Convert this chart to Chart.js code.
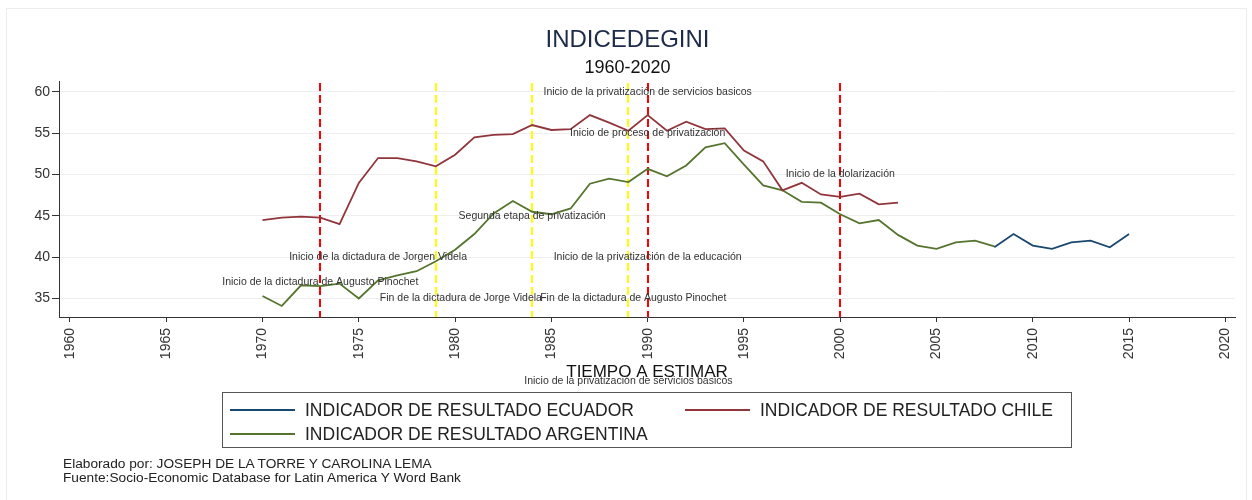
<!DOCTYPE html>
<html>
<head>
<meta charset="utf-8">
<script src="https://cdn.jsdelivr.net/npm/chart.js@4.4.1/dist/chart.umd.min.js"></script>
<style>
  html, body { margin: 0; padding: 0; background: #fff; }
  #wrap { position: relative; width: 1252px; height: 500px; overflow: hidden; font-family: "Liberation Sans", Arial, sans-serif; }
  #frame { position: absolute; left: 6px; top: 8px; width: 1241px; height: 520px; border: 1px solid #ececec; box-sizing: border-box; }
  #giniChart { position: absolute; left: 0; top: 0; }
  #legend { position: absolute; left: 222px; top: 392px; width: 850px; height: 56px; border: 1px solid #555; box-sizing: border-box; }
  .item { position: absolute; height: 22px; line-height: 22px; display: flex; align-items: center; white-space: nowrap; font-size: 17.5px; color: #222; }
  .col0 { left: 7px; }
  .col1 { left: 462px; }
  .row0 { top: 6px; }
  .row1 { top: 30px; }
  .swatch { width: 65px; height: 0; border-top: 2px solid; margin-right: 10px; }
  #footer { position: absolute; left: 63px; top: 457px; font-size: 13.7px; line-height: 14px; color: #222; }
</style>
</head>
<body>
<div id="wrap">
  <div id="frame"></div>
  <canvas id="giniChart" width="1252" height="500"></canvas>
  <div id="legend"></div>
  <div id="footer">
    Elaborado por: JOSEPH DE LA TORRE Y CAROLINA LEMA<br>
    Fuente:Socio-Economic Database for Latin America Y Word Bank
  </div>
</div>
<script>
// años 1970-2015
const years = [1970, 1971, 1972, 1973, 1974, 1975, 1976, 1977, 1978, 1979,
  1980, 1981, 1982, 1983, 1984, 1985, 1986, 1987, 1988, 1989,
  1990, 1991, 1992, 1993, 1994, 1995, 1996, 1997, 1998, 1999,
  2000, 2001, 2002, 2003, 2004, 2005, 2006, 2007, 2008, 2009,
  2010, 2011, 2012, 2013, 2014, 2015];

const ecuador = [null, null, null, null, null, null, null, null, null, null,
  null, null, null, null, null, null, null, null, null, null,
  null, null, null, null, null, null, null, null, null, null,
  null, null, null, null, null, null, null, null, 41.2, 42.8,
  41.4, 41.0, 41.8, 42.0, 41.2, 42.8];

const chile = [44.5, 44.8, 44.9, 44.8, 44.0, 49.0, 52.0, 52.0, 51.6, 51.0,
  52.4, 54.5, 54.8, 54.9, 56.0, 55.4, 55.5, 57.2, 56.3, 55.3,
  57.2, 55.3, 56.4, 55.5, 55.6, 52.9, 51.6, 48.1, 49.0, 47.6,
  47.3, 47.7, 46.4, 46.6, null, null, null, null, null, null,
  null, null, null, null, null, null];

const argentina = [35.3, 34.1, 36.6, 36.5, 36.8, 35.0, 37.2, 37.8, 38.3, 39.5,
  40.9, 42.8, 45.3, 46.8, 45.5, 45.2, 45.9, 48.9, 49.5, 49.1,
  50.7, 49.8, 51.1, 53.3, 53.8, 51.2, 48.7, 48.1, 46.7, 46.6,
  45.2, 44.1, 44.5, 42.7, 41.4, 41.0, 41.8, 42.0, 41.3, null,
  null, null, null, null, null, null];

const xTicks = [1960, 1965, 1970, 1975, 1980, 1985, 1990, 1995, 2000, 2005, 2010, 2015, 2020];
const yTicks = [35, 40, 45, 50, 55, 60];

// lineas verticales de eventos
const eventYears = [1973, 1979, 1984, 1989, 1990, 2000];
const eventColors = ["#ff0000", "#ffff00", "#ffff00", "#ffff00", "#ff0000", "#ff0000"];

// textos de eventos
const noteTexts = [
  "Inicio de la privatización de servicios basicos",
  "Inicio de proceso de privatización",
  "Inicio de la dolarización",
  "Segunda etapa de privatización",
  "Inicio de la dictadura de Jorgen Videla",
  "Inicio de la privatización de la educación",
  "Inicio de la dictadura de Augusto Pinochet",
  "Fin de la dictadura de Jorge Videla",
  "Fin de la dictadura de Augusto Pinochet",
  "Inicio de la privatización de servicios basicos",
];
const noteYears = [1990, 1990, 2000, 1984, 1976, 1990, 1973, 1980.3, 1989.25, 1989];
const noteValues = [60, 55, 50, 45, 40, 40, 37, 35, 35, 25];

function toPoints(values) {
  return years.map((yr, i) => ({ x: yr, y: values[i] })).filter(p => p.y !== null);
}

const eventLines = {
  id: "eventLines",
  beforeDatasetsDraw(chart) {
    const { ctx, chartArea, scales } = chart;
    ctx.save();
    ctx.lineWidth = 2;
    ctx.setLineDash([8, 4]);
    eventYears.forEach((yr, i) => {
      const x = Math.round(scales.x.getPixelForValue(yr));
      ctx.strokeStyle = eventColors[i];
      ctx.beginPath();
      ctx.moveTo(x, chartArea.top + 2);
      ctx.lineTo(x, chartArea.bottom);
      ctx.stroke();
    });
    ctx.restore();
  },
};

const notes = {
  id: "notes",
  afterDatasetsDraw(chart) {
    const { ctx, scales } = chart;
    ctx.save();
    ctx.font = "10.5px 'Liberation Sans', Arial, sans-serif";
    ctx.fillStyle = "#333";
    ctx.textAlign = "center";
    ctx.textBaseline = "middle";
    noteTexts.forEach((t, i) => {
      ctx.fillText(t, scales.x.getPixelForValue(noteYears[i]), scales.y.getPixelForValue(noteValues[i]));
    });
    ctx.restore();
  },
};

const htmlLegend = {
  id: "htmlLegend",
  afterUpdate(chart) {
    const box = document.getElementById("legend");
    box.innerHTML = "";
    chart.data.datasets.forEach((ds, i) => {
      const item = document.createElement("div");
      item.className = "item col" + (i % 2) + " row" + Math.floor(i / 2);
      const sw = document.createElement("span");
      sw.className = "swatch";
      sw.style.borderTopColor = ds.borderColor;
      const label = document.createElement("span");
      label.textContent = ds.label;
      item.appendChild(sw);
      item.appendChild(label);
      box.appendChild(item);
    });
  },
};

const ctx = document.getElementById("giniChart").getContext("2d");
const giniChart = new Chart(ctx, {
  type: "line",
  data: {
    datasets: [
      {
        label: "INDICADOR DE RESULTADO ECUADOR",
        data: toPoints(ecuador),
        borderColor: "#1a476f",
      },
      {
        label: "INDICADOR DE RESULTADO CHILE",
        data: toPoints(chile),
        borderColor: "#90353b",
      },
      {
        label: "INDICADOR DE RESULTADO ARGENTINA",
        data: toPoints(argentina),
        borderColor: "#55752f",
      },
    ],
  },
  options: {
    responsive: false,
    animation: false,
    devicePixelRatio: 1,
    elements: {
      line: { borderWidth: 1.8, tension: 0, fill: false },
      point: { radius: 0, hoverRadius: 0 },
    },
    layout: { padding: { left: 20, right: 17, top: 25.6, bottom: 117 } },
    plugins: {
      legend: { display: false },
      tooltip: { enabled: false },
      title: {
        display: true,
        text: "INDICEDEGINI",
        color: "#1c2b4a",
        font: { size: 24, weight: "normal", family: "'Liberation Sans', Arial, sans-serif" },
        padding: { top: 0, bottom: 2.8 },
      },
      subtitle: {
        display: true,
        text: "1960-2020",
        color: "#111",
        font: { size: 18, weight: "normal", family: "'Liberation Sans', Arial, sans-serif" },
        padding: { top: 0, bottom: 2.2 },
      },
    },
    scales: {
      x: {
        type: "linear",
        min: 1959.43,
        max: 2020.5,
        afterBuildTicks: (scale) => { scale.ticks = xTicks.map(v => ({ value: v })); },
        afterFit: (scale) => { scale.height = 66; },
        ticks: {
          minRotation: 90,
          maxRotation: 90,
          padding: 6,
          color: "#333",
          font: { size: 14, family: "'Liberation Sans', Arial, sans-serif" },
          callback: (v) => String(v),
        },
        grid: { drawOnChartArea: false, tickLength: 5, tickColor: "#333" },
        border: { color: "#333", width: 1 },
        title: {
          display: true,
          text: "TIEMPO A ESTIMAR",
          color: "#111",
          padding: 0,
          font: { size: 17, family: "'Liberation Sans', Arial, sans-serif" },
        },
      },
      y: {
        min: 32.76,
        max: 61.33,
        afterBuildTicks: (scale) => { scale.ticks = yTicks.map(v => ({ value: v })); },
        afterFit: (scale) => { scale.width = 39; },
        ticks: {
          padding: 2,
          color: "#333",
          font: { size: 14, family: "'Liberation Sans', Arial, sans-serif" },
        },
        grid: { color: "#eeeeee", tickColor: "#333", tickLength: 7 },
        border: { color: "#333", width: 1 },
      },
    },
  },
  plugins: [eventLines, notes, htmlLegend],
});
</script>
</body>
</html>
